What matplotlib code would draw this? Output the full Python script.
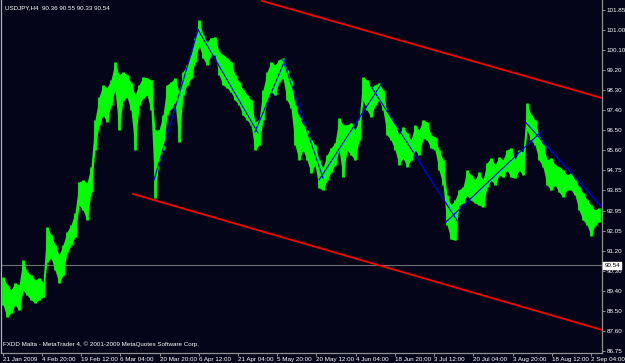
import numpy as np
import matplotlib
matplotlib.use('Agg')
import matplotlib.pyplot as plt

highs = [90.02, 89.67, 89.45, 89.76, 89.67, 90.78, 90.24, 90.11, 89.89, 89.98,
         89.80, 92.24, 91.89, 91.44, 91.00, 91.44, 92.02, 92.33, 92.86, 94.23,
         94.32, 94.19, 94.90, 96.98, 97.99, 98.53, 98.40, 98.75, 99.55, 98.97,
         99.10, 98.97, 98.62, 98.09, 98.53, 98.88, 98.84, 98.75, 96.53, 96.53,
         97.20, 98.53, 98.66, 98.84, 98.22, 99.10, 99.41, 99.86, 100.61, 101.41,
         100.74, 100.43, 100.61, 100.65, 99.99, 99.86, 99.72, 99.55, 98.97, 98.66,
         98.31, 98.09, 97.86, 96.89, 96.98, 98.31, 99.10, 99.55, 99.41, 99.64,
         99.72, 99.19, 98.75, 97.64, 97.11, 96.76, 96.53, 96.09, 95.87, 95.21,
         94.85, 95.43, 95.74, 95.96, 97.07, 96.76, 96.76, 96.85, 96.53, 96.98,
         98.88, 98.75, 98.40, 98.53, 98.62, 98.31, 97.29, 97.07, 96.76, 96.31,
         96.67, 96.40, 96.09, 96.76, 96.53, 96.98, 96.89, 96.31, 96.22, 95.65,
         95.21, 93.65, 93.21, 93.43, 93.88, 94.01, 94.76, 94.54, 94.32, 94.68,
         94.32, 95.08, 95.30, 94.99, 95.34, 95.21, 95.65, 95.74, 95.21, 95.65,
         95.56, 97.73, 97.20, 96.98, 96.22, 95.87, 95.21, 95.30, 94.99, 94.90,
         94.76, 94.54, 94.63, 94.32, 94.01, 93.74, 93.43, 93.21, 92.99, 93.08]
lows = [88.79, 88.25, 88.43, 88.79, 88.56, 89.45, 89.23, 89.01, 88.88, 89.01,
        89.14, 90.69, 90.87, 90.33, 89.76, 90.11, 91.13, 91.44, 91.80, 93.21,
        92.99, 92.55, 93.79, 95.65, 96.76, 97.20, 96.89, 97.64, 98.31, 96.53,
        97.86, 97.99, 97.42, 95.65, 97.64, 97.95, 98.09, 97.42, 93.52, 95.21,
        95.65, 97.20, 97.51, 97.77, 96.00, 98.09, 98.53, 98.84, 99.55, 100.30,
        99.72, 99.41, 99.86, 99.86, 98.97, 98.53, 98.40, 98.22, 97.86, 97.64,
        97.20, 96.98, 96.76, 95.65, 95.87, 96.98, 97.86, 98.22, 98.09, 98.66,
        98.84, 97.86, 97.51, 95.87, 95.21, 95.65, 95.21, 94.63, 94.99, 93.97,
        93.88, 94.32, 94.68, 94.99, 95.65, 94.45, 95.65, 95.43, 95.21, 96.09,
        97.86, 97.42, 97.11, 97.64, 97.86, 97.42, 96.31, 96.09, 95.65, 94.99,
        95.30, 94.90, 95.21, 95.65, 95.43, 96.18, 96.09, 95.74, 95.65, 94.76,
        94.10, 92.33, 91.70, 91.66, 93.21, 93.30, 93.65, 93.43, 93.30, 93.21,
        93.12, 94.01, 94.32, 94.10, 94.54, 94.45, 94.76, 94.45, 94.41, 94.76,
        94.54, 96.53, 96.09, 95.87, 95.21, 94.90, 94.10, 93.88, 94.10, 93.79,
        93.56, 93.88, 93.88, 93.65, 92.99, 92.55, 92.33, 91.86, 92.33, 92.46]

# trendlines drawn on the chart: (bar, price) -> (bar, price)
zigzag = [((37.75, 94.32), (48.75, 100.96)),
          ((48.5, 101.05), (63.75, 96.40)),
          ((63.0, 96.45), (70.5, 99.64)),
          ((70.0, 99.64), (80.0, 94.41)),
          ((79.0, 94.32), (94.75, 98.62)),
          ((92.25, 98.40), (113.75, 92.46)),
          ((110.75, 92.46), (134.75, 96.49)),
          ((130.75, 96.85), (149.75, 93.12))]
channel = [((64.75, 102.25), (149.75, 97.95)),
           ((32.5, 93.70), (149.75, 87.68))]

last_price = 90.54
ytick_labels = ['101.85', '101.00', '100.10', '99.20', '98.30', '97.40', '96.50', '95.60', '94.75',
                '93.85', '92.95', '92.05', '91.20', '90.30', '89.40', '88.50', '87.60', '86.75']
xtick_labels = ['21 Jan 2009', '4 Feb 20:00', '19 Feb 12:00', '6 Mar 04:00', '20 Mar 20:00',
                '6 Apr 12:00', '21 Apr 04:00', '5 May 20:00', '20 May 12:00', '4 Jun 04:00',
                '18 Jun 20:00', '3 Jul 12:00', '20 Jul 04:00', '3 Aug 20:00', '18 Aug 12:00',
                '2 Sep 04:00']

bg = '#05051a'
fs = 4.5
plt.rcParams['font.family'] = ['Liberation Sans', 'DejaVu Sans']

fig = plt.figure(figsize=(6.25, 3.63), dpi=100, facecolor=bg)
ax = fig.add_axes([1.5/625, 10.5/363, 600.5/625, 352.5/363], facecolor=bg)

x = np.arange(len(highs))
ax.fill_between(x, lows, highs, color='#00ff00', lw=0, zorder=2)
ax.vlines(x, lows, highs, color='#00ff00', lw=2.0, zorder=3)

for (a, b) in zigzag:
    ax.plot([a[0], b[0]], [a[1], b[1]], color='#0000ff', lw=0.9, zorder=4)
for (a, b) in channel:
    ax.plot([a[0], b[0]], [a[1], b[1]], color='#ff0000', lw=1.3, zorder=4)

ax.axhline(last_price, color='#707070', lw=0.8, zorder=1)

ax.set_xlim(-0.375, 149.75)
ax.set_ylim(86.68, 102.29)

yt = 101.85 - np.arange(len(ytick_labels)) * (101.85 - 86.75) / (len(ytick_labels) - 1)
ax.yaxis.tick_right()
ax.set_yticks(yt)
ax.set_yticklabels(ytick_labels)
xt = -0.075 + np.arange(len(xtick_labels)) * 9.805
ax.set_xticks(xt)
ax.set_xticklabels(xtick_labels)
for lbl in ax.get_xticklabels():
    lbl.set_ha('left')
ax.tick_params(axis='both', colors='#909090', labelcolor='white', labelsize=fs, length=2.5, width=0.7, pad=1)

for s in ['right', 'bottom']:
    ax.spines[s].set_color('#909090')
    ax.spines[s].set_linewidth(0.9)
ax.spines['left'].set_color('#b0b0b0')
ax.spines['left'].set_linewidth(0.9)
ax.spines['top'].set_visible(False)

# current price marker on the right scale
ax.text(1.004, last_price, '90.54', transform=ax.get_yaxis_transform(), fontsize=fs,
        color='black', va='center', ha='left', zorder=10, clip_on=False,
        bbox=dict(boxstyle='square,pad=0.2', fc='white', ec='white'))

ax.text(0.005, 0.985, 'USDJPY,H4  90.36 90.55 90.33 90.54', transform=ax.transAxes,
        fontsize=fs, color='white', va='top', ha='left')
ax.text(0.003, 0.015, 'FXDD Malta - MetaTrader 4, \u00a9 2001-2009 MetaQuotes Software Corp.',
        transform=ax.transAxes, fontsize=fs, color='white', va='bottom', ha='left')

plt.savefig('out.png', dpi=100, facecolor=bg)
